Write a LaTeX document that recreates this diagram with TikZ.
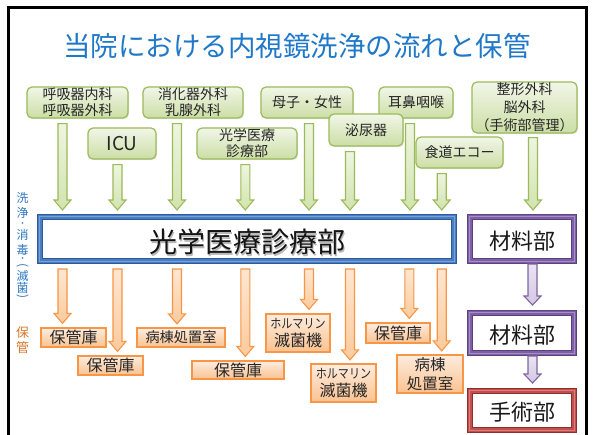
\documentclass[tikz,border=0pt]{standalone}
\usepackage{fontspec}
\usepackage{graphicx}
\setmainfont{Noto Sans CJK JP}
\usetikzlibrary{calc,shadows}

\definecolor{gbord}{HTML}{9BBB59}
\definecolor{gtop}{HTML}{F1F6E8}
\definecolor{gbot}{HTML}{CCDEA5}
\definecolor{gatop}{HTML}{EEF5E0}
\definecolor{gabot}{HTML}{D2E3AE}
\definecolor{obord}{HTML}{F79646}
\definecolor{otop}{HTML}{FDECDE}
\definecolor{obot}{HTML}{FAC290}
\definecolor{oatop}{HTML}{FDE6D2}
\definecolor{oabot}{HTML}{FBCB9C}
\definecolor{pbord}{HTML}{8064A2}
\definecolor{patop}{HTML}{EAE4F2}
\definecolor{pabot}{HTML}{D3C7E4}
\definecolor{blueM}{HTML}{4A7DC0}
\definecolor{blueD}{HTML}{2D5A96}
\definecolor{blueL}{HTML}{73A2DC}
\definecolor{purM}{HTML}{7D5FA3}
\definecolor{purD}{HTML}{5B4180}
\definecolor{purL}{HTML}{A68DC8}
\definecolor{redM}{HTML}{C0504D}
\definecolor{redD}{HTML}{8E2F2D}
\definecolor{redL}{HTML}{DE7C79}
\definecolor{titleblue}{HTML}{1F78C8}
\definecolor{sideblue}{HTML}{2E78C2}
\definecolor{sideorange}{HTML}{D9782D}

% block arrow: style, x, from-node, to-node, top gap, bottom gap, head length
\newcommand\barrow[7]{%
  \path[#1] let \p1=(#3.south), \p2=(#4.north) in
    (#2pt-4.5pt,\y1-#5pt) -- (#2pt+4.5pt,\y1-#5pt)
    -- (#2pt+4.5pt,\y2+#6pt+#7pt) -- (#2pt+8.5pt,\y2+#6pt+#7pt)
    -- (#2pt,\y2+#6pt) -- (#2pt-8.5pt,\y2+#6pt+#7pt)
    -- (#2pt-4.5pt,\y2+#6pt+#7pt) -- cycle;}

% bevel decoration around a framed node: name, dark, light
\newcommand\bevel[3]{%
  \draw[#2, line width=0.8pt] ($(#1.north west)+(0.4pt,-0.4pt)$) rectangle ($(#1.south east)+(-0.4pt,0.4pt)$);
  \draw[#3, line width=1.4pt] ($(#1.north west)+(2.6pt,-2.6pt)$) rectangle ($(#1.south east)+(-2.6pt,2.6pt)$);
  \draw[#2, line width=0.8pt] ($(#1.north west)+(5.6pt,-5.6pt)$) rectangle ($(#1.south east)+(-5.6pt,5.6pt)$);}

\begin{document}
\begin{tikzpicture}[x=1pt,y=-1pt,
  gbox/.style={draw=gbord, line width=1.2pt, rounded corners=5pt, top color=gtop, bottom color=gbot,
    inner sep=0pt, align=center, text=black!85, font=\fontsize{14}{16}\selectfont,
    drop shadow={opacity=0.2, shadow xshift=1pt, shadow yshift=-1.2pt}},
  obox/.style={draw=obord, line width=1.2pt, top color=otop, bottom color=obot,
    inner sep=0pt, align=center, text=black!85, font=\fontsize{16}{18}\selectfont,
    drop shadow={opacity=0.2, shadow xshift=1pt, shadow yshift=-1.2pt}},
  frame/.style={line width=6pt, fill=white, inner sep=0pt, text=black!90, font=\fontsize{22}{24}\selectfont},
  garr/.style={draw=gbord, line width=1.1pt, top color=gatop, bottom color=gabot, line join=miter},
  oarr/.style={draw=obord, line width=1.1pt, top color=oatop, bottom color=oabot, line join=miter},
  parr/.style={draw=pbord, line width=1.1pt, top color=patop, bottom color=pabot, line join=miter},
  sideb/.style={text=sideblue, font=\fontsize{12}{12}\selectfont, inner sep=0pt},
  sidedot/.style={text=sideblue, font=\fontsize{8}{8}\selectfont, inner sep=0pt},
  sideo/.style={text=sideorange, font=\fontsize{13}{13}\selectfont, inner sep=0pt}
]
\useasboundingbox (0,0) rectangle (593,435);
\fill[white] (0,0) rectangle (593,435);
\draw[line width=3pt, line join=miter] (8.7,440) -- (8.7,7.5) -- (586.5,7.5) -- (586.5,440);

% title
\node[text=titleblue, font=\fontsize{27.5}{30}\selectfont, inner sep=0pt] (title) at (297,46) {当院における内視鏡洗浄の流れと保管};

% side labels
\foreach \ch/\yy [count=\i] in {洗/198, 浄/213, 消/235, 毒/250, 滅/276, 菌/288}
  \node[sideb] (sl\i) at (22.5,\yy) {\ch};
\node[sidedot] (sld1) at (22.5,225) {・};
\node[sidedot] (sld2) at (22.5,260) {・};
\node[sideb, rotate=-90] (slp1) at (22.5,266) {(};
\node[sideb, rotate=-90] (slp2) at (22.5,296.5) {)};
\node[sideo] (so1) at (22.7,333) {保};
\node[sideo] (so2) at (22.7,347.5) {管};

% top departments
\node[gbox, minimum width=101pt, minimum height=31pt] (resp) at (77.5,102.5) {呼吸器内科\\呼吸器外科};
\node[gbox, minimum width=68pt, minimum height=31pt, font=\fontsize{19}{20}\selectfont] (icu) at (122,143.5) {ICU};
\node[gbox, minimum width=100pt, minimum height=31pt] (dig) at (193,102.5) {消化器外科\\乳腺外科};
\node[gbox, minimum width=100pt, minimum height=31pt] (opt) at (247,143.5) {光学医療\\診療部};
\node[gbox, minimum width=92pt, minimum height=31pt] (mat) at (307,102.5) {母子・女性};
\node[gbox, minimum width=74pt, minimum height=31pt] (ent) at (416,102.5) {耳鼻咽喉};
\node[gbox, minimum width=74pt, minimum height=32pt] (uro) at (366,130) {泌尿器};
\node[gbox, minimum width=87pt, minimum height=31pt] (eso) at (459.5,152.5) {食道エコー};
\node[gbox, minimum width=105pt, minimum height=51pt, font=\fontsize{14}{18}\selectfont] (ortho) at (524.5,107.5) {整形外科\\脳外科\\（手術部管理）};

% main frames
\node[frame, draw=blueM, minimum width=414pt, minimum height=44pt] (main) at (247,239) {};
\bevel{main}{blueD}{blueL}
\node[text=black!28, font=\fontsize{28}{30}\selectfont, inner sep=0pt] (mainsh) at (248.4,243.4) {光学医療診療部};
\node[text=black!92, font=\fontsize{28}{30}\selectfont, inner sep=0pt] (maintxt) at (247,242) {光学医療診療部};

\node[frame, draw=purM, minimum width=104pt, minimum height=44pt] (mat1) at (522,239) {};
\bevel{mat1}{purD}{purL}
\node[text=black!90, font=\fontsize{22}{24}\selectfont, inner sep=0pt] (mat1t) at (522,241) {材料部};
\node[frame, draw=purM, minimum width=104pt, minimum height=40pt] (mat2) at (522,333) {};
\bevel{mat2}{purD}{purL}
\node[text=black!90, font=\fontsize{22}{24}\selectfont, inner sep=0pt] (mat2t) at (522,335) {材料部};
\node[frame, draw=redM, minimum width=104pt, minimum height=39pt] (ope) at (522,410.5) {};
\bevel{ope}{redD}{redL}
\node[text=black!90, font=\fontsize{22}{24}\selectfont, inner sep=0pt] (opet) at (522,412.5) {手術部};

% storage boxes
\node[obox, minimum width=65pt, minimum height=19pt] (o1) at (73.5,337.5) {保管庫};
\node[obox, minimum width=65pt, minimum height=19pt] (o2) at (110.5,365.5) {保管庫};
\node[obox, minimum width=88pt, minimum height=19pt, font=\fontsize{14.2}{16}\selectfont] (o3) at (181,337.5) {病棟処置室};
\node[obox, minimum width=92pt, minimum height=18pt] (o4) at (238,370) {保管庫};
\node[obox, minimum width=64pt, minimum height=38pt] (o5) at (298,333) {\fontsize{13}{18}\selectfont\scalebox{0.85}[1]{ホルマリン}\\滅菌機};
\node[obox, minimum width=65pt, minimum height=38pt] (o6) at (343.5,383) {\fontsize{13}{18}\selectfont\scalebox{0.85}[1]{ホルマリン}\\滅菌機};
\node[obox, minimum width=64pt, minimum height=20pt] (o7) at (398,333) {保管庫};
\node[obox, minimum width=66pt, minimum height=38pt, font=\fontsize{15.5}{19}\selectfont] (o8) at (430,374) {病棟\\処置室};

% green arrows into the main unit
\barrow{garr}{62.5}{resp}{main}{5}{4}{10}
\barrow{garr}{117.5}{icu}{main}{5}{4}{10}
\barrow{garr}{177}{dig}{main}{5}{4}{10}
\barrow{garr}{245.3}{opt}{main}{5}{4}{10}
\barrow{garr}{309}{mat}{main}{5}{4}{10}
\barrow{garr}{350}{uro}{main}{5}{4}{10}
\barrow{garr}{410}{ent}{main}{5}{4}{10}
\barrow{garr}{441.7}{eso}{main}{5}{4}{10}
\barrow{garr}{533}{ortho}{mat1}{4}{4}{10}

% orange arrows to storage
\barrow{oarr}{62.5}{main}{o1}{5}{4}{10}
\barrow{oarr}{117.5}{main}{o2}{5}{4}{10}
\barrow{oarr}{177}{main}{o3}{5}{3.5}{10}
\barrow{oarr}{245.3}{main}{o4}{5}{4}{10}
\barrow{oarr}{309}{main}{o5}{5}{4}{10}
\barrow{oarr}{350}{main}{o6}{5}{3.5}{10}
\barrow{oarr}{409.3}{main}{o7}{5}{4}{10}
\barrow{oarr}{441.7}{main}{o8}{5}{3.5}{10}

% purple arrows
\barrow{parr}{532.5}{mat1}{mat2}{0}{5}{9}
\barrow{parr}{532.5}{mat2}{ope}{0}{5}{9}
\end{tikzpicture}
\end{document}
